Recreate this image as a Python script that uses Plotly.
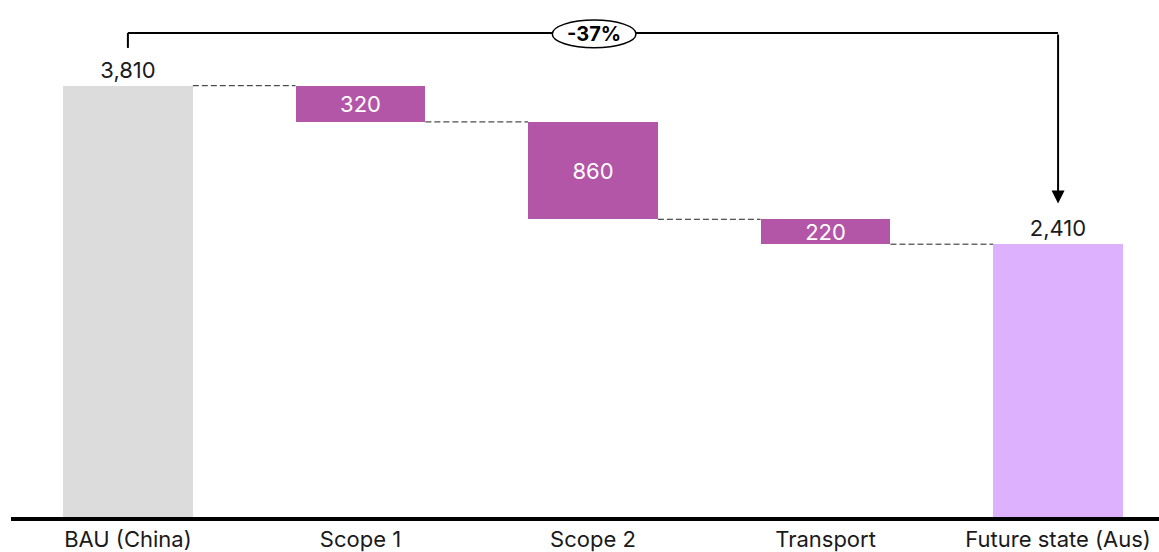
import plotly.graph_objects as go

categories = ["BAU (China)", "Scope 1", "Scope 2", "Transport", "Future state (Aus)"]
kinds = ["total", "delta", "delta", "delta", "total"]
values = [3810, -320, -860, -220, 2410]
colors = ["#DCDCDC", "#B456A8", "#B456A8", "#B456A8", "#DDB1FD"]

# compute bar bases/heights
bases, heights, levels = [], [], []
running = 0
for k, v in zip(kinds, values):
    if k == "total":
        bases.append(0)
        heights.append(v)
        running = v
    else:
        new = running + v
        bases.append(min(running, new))
        heights.append(abs(v))
        running = new
    levels.append(running)

labels = [f"{abs(v):,}" for v in values]
textpos = ["outside" if k == "total" else "inside" for k in kinds]
textcol = ["#1a1a1a" if k == "total" else "white" for k in kinds]

xs = list(range(len(categories)))
bw = 0.5585
FONT = "Inter"
FS = 22

fig = go.Figure(go.Bar(
    x=xs, y=heights, base=bases, width=bw,
    marker=dict(color=colors, line=dict(width=0)),
    text=labels, textposition=textpos, insidetextanchor="middle",
    textfont=dict(color=textcol, size=FS, family=FONT),
    outsidetextfont=dict(color="#1a1a1a", size=FS, family=FONT),
    constraintext="none", cliponaxis=False, hoverinfo="skip",
))

shapes = []
# dashed connectors
for i in range(len(xs) - 1):
    lvl = levels[i]
    shapes.append(dict(type="line", xref="x", yref="y",
                       x0=xs[i] + bw / 2, x1=xs[i + 1] - bw / 2, y0=lvl, y1=lvl,
                       line=dict(color="#222222", width=1, dash="6px,3px")))

# bracket
y_top = 4276
shapes.append(dict(type="line", xref="x", yref="y", x0=0, x1=0, y0=4144, y1=y_top,
                   line=dict(color="black", width=2)))
shapes.append(dict(type="line", xref="x", yref="y", x0=0, x1=4, y0=y_top, y1=y_top,
                   line=dict(color="black", width=2)))
shapes.append(dict(type="circle", xref="x", yref="y", x0=1.825, x1=2.185, y0=4145, y1=4390,
                   fillcolor="white", line=dict(color="black", width=1.5)))

pct = round((values[-1] - values[0]) / values[0] * 100)

annotations = [
    dict(x=4, y=2770, ax=4, ay=y_top, xref="x", yref="y", axref="x", ayref="y",
         text="", showarrow=True, arrowhead=2, arrowsize=1.3, arrowwidth=2,
         arrowcolor="black"),
    dict(x=2.006, y=4268, xref="x", yref="y", text=f"<b>{pct}%</b>", showarrow=False,
         font=dict(size=20, color="black", family=FONT)),
]

fig.update_layout(
    width=1159, height=552,
    margin=dict(l=11, r=0, t=0, b=33),
    paper_bgcolor="white", plot_bgcolor="white",
    showlegend=False, bargap=0,
    shapes=shapes, annotations=annotations,
    xaxis=dict(range=[-0.5027, 4.434], tickmode="array", tickvals=xs, ticktext=categories,
               showline=True, linewidth=4, linecolor="black", showgrid=False,
               zeroline=False, ticks="", tickfont=dict(size=FS, color="#1a1a1a", family=FONT),
               fixedrange=True),
    yaxis=dict(range=[0, 4567], visible=False, showgrid=False, zeroline=False, fixedrange=True),
)

fig.write_html("out.html")
